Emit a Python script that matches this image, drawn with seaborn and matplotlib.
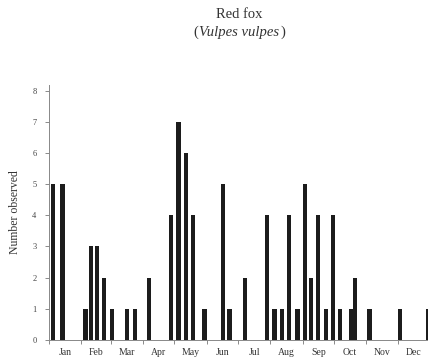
import matplotlib
matplotlib.use("Agg")
import matplotlib.pyplot as plt
import seaborn as sns
import pandas as pd
from matplotlib.offsetbox import TextArea, HPacker, AnchoredOffsetbox

# Day of year of each observation and number observed
day_of_year = [4, 13, 35, 40, 46, 53, 60, 75, 82, 96, 117, 124, 131, 138, 149,
               167, 173, 188, 209, 216, 223, 230, 238, 245, 251, 258, 265, 272,
               279, 289, 293, 307, 336, 363]
number_observed = [5, 5, 1, 3, 3, 2, 1, 1, 1, 2, 4, 7, 6, 4, 1,
                   5, 1, 2, 4, 1, 1, 4, 1, 5, 2, 4, 1, 4,
                   1, 1, 2, 1, 1, 1]
month_labels = ["Jan", "Feb", "Mar", "Apr", "May", "Jun",
                "Jul", "Aug", "Sep", "Oct", "Nov", "Dec"]
month_starts = [0, 31, 59, 90, 120, 151, 181, 212, 243, 273, 304, 334, 365]
y_ticks = [0, 1, 2, 3, 4, 5, 6, 7, 8]

df = pd.DataFrame({"day": day_of_year, "count": number_observed})

sns.set_theme(style="white")
plt.rcParams["font.family"] = ["Liberation Serif", "DejaVu Serif"]

fig = plt.figure(figsize=(4.28, 3.62), dpi=100)
ax = fig.add_axes([49 / 428, 22 / 362, 381 / 428, 255 / 362])

sns.barplot(data=df, x="day", y="count", native_scale=True, orient="x",
            color="#1c1c1c", saturation=1, width=1.0, errorbar=None,
            edgecolor="none", linewidth=0, ax=ax)

ax.set_xlim(0, 365)
ax.set_ylim(0, 8.18)

ax.set_xticks(month_starts)
ax.set_xticklabels([])
centers = [(month_starts[i] + month_starts[i + 1]) / 2 for i in range(12)]
ax.set_xticks(centers, minor=True)
ax.set_xticklabels(month_labels, minor=True, fontsize=7, color="#333333")
ax.tick_params(axis="x", which="major", direction="out", length=3, width=0.6,
               color="#777777", bottom=True)
ax.tick_params(axis="x", which="minor", length=0, pad=6)

ax.set_yticks(y_ticks)
ax.set_yticklabels([str(v) for v in y_ticks], fontsize=6, color="#444444")
ax.tick_params(axis="y", direction="out", length=3, width=0.6,
               color="#777777", left=True, pad=6)

ax.set_xlabel("")
ax.set_ylabel("Number observed", fontsize=8.5, color="#333333", labelpad=8)

for side in ["top", "right"]:
    ax.spines[side].set_visible(False)
for side in ["left", "bottom"]:
    ax.spines[side].set_color("#888888")
    ax.spines[side].set_linewidth(0.7)

fig.text(239.5 / 428, 1 - 14 / 362, "Red fox", ha="center", va="center",
         fontsize=10.5, color="#333333")

tp = dict(fontsize=10.5, color="#333333", family=["Liberation Serif"])
parts = [TextArea("(", textprops=tp),
         TextArea("Vulpes vulpes", textprops=dict(tp, style="italic")),
         TextArea(")", textprops=tp)]
box = HPacker(children=parts, align="baseline", pad=0, sep=0.5)
anch = AnchoredOffsetbox(loc="center", child=box, frameon=False,
                         bbox_to_anchor=(239.5 / 428, 1 - 32 / 362),
                         bbox_transform=fig.transFigure, borderpad=0, pad=0)
fig.add_artist(anch)

fig.savefig("out.png", dpi=100)
